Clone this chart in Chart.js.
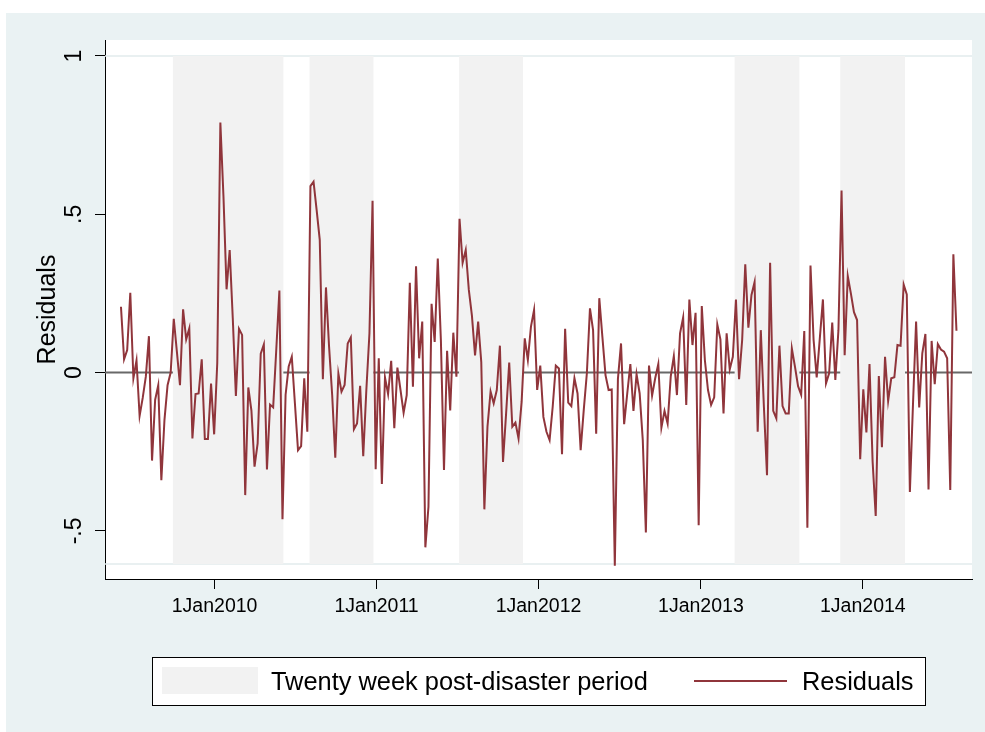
<!DOCTYPE html>
<html><head><meta charset="utf-8">
<script src="https://cdn.jsdelivr.net/npm/chart.js@4.4.1/dist/chart.umd.min.js"></script>
<style>html,body{margin:0;padding:0;background:#fff;}#wrap{width:985px;height:732px;position:relative;}canvas{display:block;}</style>
</head><body><div id="wrap"><canvas id="c" width="985" height="732"></canvas></div>
<script>
// ---- data ----
const firstWeek = '2009-06-04';
const weekStepDays = 7;
const residuals = [
 0.208,0.042,0.071,0.252,-0.018,0.038,-0.137,-0.08,-0.013,0.115,
 -0.278,-0.086,-0.04,-0.34,-0.15,-0.04,0.0,0.17,0.066,-0.04,
 0.20,0.105,0.14,-0.208,-0.068,-0.066,0.042,-0.21,-0.21,-0.035,
 -0.195,0.03,0.79,0.556,0.263,0.387,0.171,-0.074,0.138,0.119,
 -0.387,-0.047,-0.12,-0.297,-0.224,0.06,0.089,-0.306,-0.101,-0.11,
 0.072,0.259,-0.463,-0.07,0.019,0.05,-0.097,-0.245,-0.232,-0.018,
 -0.187,0.589,0.603,0.513,0.419,-0.021,0.269,0.082,-0.071,-0.269,
 -0.003,-0.06,-0.039,0.092,0.111,-0.179,-0.161,-0.042,-0.264,-0.055,
 0.124,0.543,-0.305,0.045,-0.352,-0.015,-0.068,0.037,-0.176,0.016,
 -0.055,-0.127,-0.071,0.284,-0.045,0.336,0.045,0.161,-0.552,-0.424,
 0.217,0.097,0.36,0.103,-0.308,0.069,-0.12,0.126,-0.013,0.486,
 0.347,0.387,0.261,0.179,0.054,0.161,0.034,-0.432,-0.171,-0.06,
 -0.097,-0.055,0.085,-0.282,-0.129,0.032,-0.171,-0.158,-0.208,-0.092,
 0.108,0.04,0.145,0.198,-0.055,0.022,-0.14,-0.187,-0.213,-0.108,
 0.022,0.013,-0.258,0.138,-0.095,-0.106,-0.018,-0.066,-0.245,-0.118,
 -0.002,0.203,0.134,-0.193,0.235,0.113,-0.008,-0.055,-0.053,-0.61,
 -0.02,0.092,-0.163,-0.066,0.027,-0.121,-0.005,-0.066,-0.213,-0.505,
 0.022,-0.073,-0.018,0.027,-0.174,-0.121,-0.161,-0.013,0.052,-0.071,
 0.124,0.174,-0.102,0.231,0.087,0.189,-0.482,0.21,0.039,-0.055,
 -0.102,-0.078,0.152,0.105,-0.129,0.124,0.01,0.05,0.231,-0.021,
 0.103,0.342,0.142,0.245,0.286,-0.187,0.134,-0.108,-0.324,0.347,
 -0.121,-0.145,0.085,-0.106,-0.129,-0.129,0.076,0.019,-0.043,-0.07,
 0.131,-0.49,0.338,0.103,-0.015,0.108,0.231,-0.034,-0.002,0.158,
 -0.023,0.134,0.575,0.055,0.305,0.25,0.191,0.166,-0.274,-0.053,
 -0.189,0.027,-0.281,-0.453,-0.011,-0.236,0.05,-0.09,-0.018,-0.015,
 0.087,0.085,0.278,0.247,-0.377,-0.1,0.161,-0.11,0.061,0.122,
 -0.369,0.1,-0.037,0.09,0.073,0.066,0.045,-0.371,0.374,0.132
];
const tickDates = ['2010-01-01','2011-01-01','2012-01-01','2013-01-01','2014-01-01'];
const tickLabels = ['1Jan2010','1Jan2011','1Jan2012','1Jan2013','1Jan2014'];
const yTickValues = [-0.5, 0, 0.5, 1];
const yTickLabels = ['-.5', '0', '.5', '1'];
const periodStarts = ['2009-09-29','2010-08-03','2011-07-06','2013-03-18','2013-11-11'];
const periodEnds   = ['2010-06-05','2010-12-25','2011-11-27','2013-08-11','2014-04-06'];
const periodTop = 1;
const periodBottom = -0.605;
const legendLabels = ['Twenty week post-disaster period', 'Residuals'];
const yTitle = 'Residuals';

// ---- helpers ----
const dayOf = s => (Date.UTC(+s.slice(0,4), +s.slice(5,7)-1, +s.slice(8,10)) - Date.UTC(2010,0,1)) / 86400000;
const FONT = '"Liberation Sans", Arial, Helvetica, sans-serif';
const MAROON = '#90353B';
const SHADE = '#F2F2F2';
const PANEL = '#EAF2F3';

const points = residuals.map((v, i) => ({ x: dayOf(firstWeek) + i * weekStepDays, y: v }));

const stataPlugin = {
  id: 'stata',
  beforeDraw(chart) {
    const { ctx, chartArea: ca, width, height } = chart;
    ctx.save();
    ctx.fillStyle = '#fff';
    ctx.fillRect(0, 0, width, height);
    ctx.fillStyle = PANEL;
    ctx.fillRect(6, 13, width - 6, height - 13);
    ctx.fillStyle = '#fff';
    ctx.fillRect(ca.left, ca.top, ca.right - ca.left, ca.bottom - ca.top);
    ctx.restore();
  },
  beforeDatasetsDraw(chart) {
    const { ctx, chartArea: ca, scales: { x, y } } = chart;
    ctx.save();
    ctx.strokeStyle = '#E2EBED';
    ctx.lineWidth = 1.5;
    [periodTop, periodBottom].forEach(v => {
      const py = y.getPixelForValue(v);
      ctx.beginPath(); ctx.moveTo(ca.left, py); ctx.lineTo(ca.right, py); ctx.stroke();
    });
    const y0 = y.getPixelForValue(0);
    ctx.strokeStyle = '#686868';
    ctx.lineWidth = 2;
    ctx.beginPath(); ctx.moveTo(ca.left, y0); ctx.lineTo(ca.right, y0); ctx.stroke();
    ctx.fillStyle = SHADE;
    const yt = y.getPixelForValue(periodTop), yb = y.getPixelForValue(periodBottom);
    periodStarts.forEach((s, k) => {
      const x1 = x.getPixelForValue(dayOf(s)), x2 = x.getPixelForValue(dayOf(periodEnds[k]));
      ctx.fillRect(x1, yt, x2 - x1, yb - yt);
    });
    ctx.restore();
  },
  afterDraw(chart) {
    const { ctx, scales: { y } } = chart;
    ctx.save();
    ctx.fillStyle = '#000';
    ctx.font = '23px ' + FONT;
    ctx.textAlign = 'center';
    ctx.textBaseline = 'middle';
    yTickValues.forEach((v, k) => {
      ctx.save();
      ctx.translate(75, y.getPixelForValue(v));
      ctx.rotate(-Math.PI / 2);
      ctx.fillText(yTickLabels[k], 0, 0);
      ctx.restore();
    });
    const lx = 152, ly = 657, lw = 773, lh = 48;
    ctx.fillStyle = '#fff';
    ctx.fillRect(lx, ly, lw, lh);
    ctx.strokeStyle = '#000';
    ctx.lineWidth = 1;
    ctx.strokeRect(lx + 0.5, ly + 0.5, lw, lh);
    ctx.fillStyle = SHADE;
    ctx.fillRect(162, 667, 96, 27);
    ctx.strokeStyle = MAROON;
    ctx.lineWidth = 2;
    ctx.beginPath(); ctx.moveTo(694, 681); ctx.lineTo(787, 681); ctx.stroke();
    ctx.fillStyle = '#000';
    ctx.font = '25.4px ' + FONT;
    ctx.textAlign = 'left';
    ctx.textBaseline = 'alphabetic';
    ctx.fillText(legendLabels[0], 271, 690);
    ctx.fillText(legendLabels[1], 802, 690);
    ctx.restore();
  }
};

new Chart(document.getElementById('c').getContext('2d'), {
  type: 'line',
  data: {
    datasets: [{
      label: legendLabels[1],
      data: points,
      borderColor: MAROON,
      borderWidth: 2,
      pointRadius: 0,
      tension: 0,
      fill: false
    }]
  },
  options: {
    responsive: false,
    animation: false,
    devicePixelRatio: 1,
    layout: { padding: { left: 0, top: 40, right: 13, bottom: 0 } },
    plugins: { legend: { display: false }, tooltip: { enabled: false } },
    scales: {
      x: {
        type: 'linear',
        min: -247, max: 1707,
        afterBuildTicks: s => { s.ticks = tickDates.map(d => ({ value: dayOf(d) })); },
        afterFit: s => { s.height = 153; },
        grid: { drawOnChartArea: false, drawTicks: true, tickLength: 10, color: '#000', lineWidth: 1 },
        border: { display: true, color: '#000', width: 1 },
        ticks: {
          autoSkip: false, maxRotation: 0, minRotation: 0, padding: 6, color: '#000',
          font: { family: FONT, size: 19.5 },
          callback: v => { const k = tickDates.findIndex(d => dayOf(d) === v); return k >= 0 ? tickLabels[k] : ''; }
        }
      },
      y: {
        type: 'linear',
        min: -0.652, max: 1.0505,
        afterBuildTicks: s => { s.ticks = yTickValues.map(v => ({ value: v })); },
        afterFit: s => { s.width = 105; },
        grid: { drawOnChartArea: false, drawTicks: true, tickLength: 10, color: '#000', lineWidth: 1 },
        border: { display: true, color: '#000', width: 1 },
        ticks: { display: false },
        title: { display: true, text: yTitle, color: '#000', font: { family: FONT, size: 25 }, padding: { top: 33, bottom: 0 } }
      }
    }
  },
  plugins: [stataPlugin]
});
</script>
</body></html>
